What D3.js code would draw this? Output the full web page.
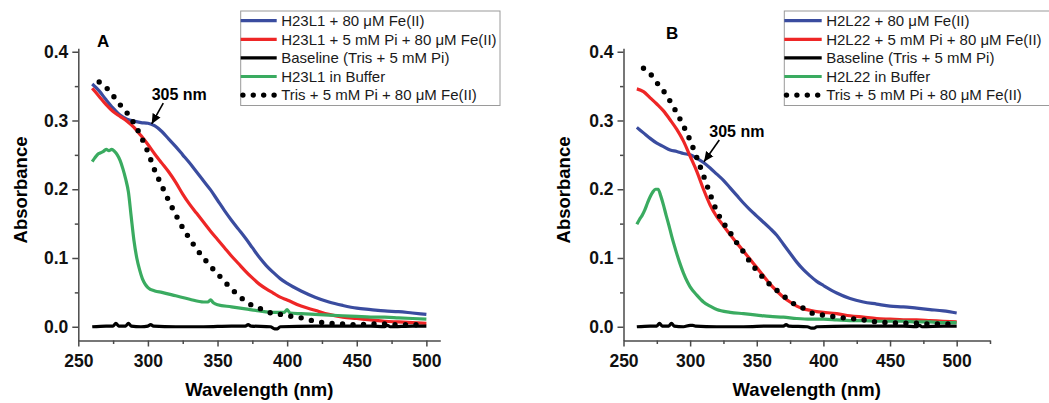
<!DOCTYPE html>
<html>
<head>
<meta charset="utf-8">
<script src="https://cdn.jsdelivr.net/npm/d3@7"></script>
<style>
body{margin:0;background:#fff;}
svg{display:block;font-family:"Liberation Sans",Arial,sans-serif;}
</style>
</head>
<body>
<svg id="chart" width="1049" height="403"></svg>
<script>
// wavelengths (nm)
const wl = [260,265,270,275,280,285,290,295,300,305,310,315,320,325,330,335,340,345,350,355,360,365,370,375,380,385,390,395,400,410,420,430,440,450,460,470,480,490,500];
const wlDots = [265,270,275,280,285,290,295,300,305,310,315,320,325,330,335,340,345,350,355,360,365,370,375,380,385,390,395,400,410,420,430,440,450,460,470,480,490,500];
const wlGreenA = [260,262,264,266,268,270,272,274,276,278,280,282,284,286,288,290,292,294,296,298,300,305,310,320,330,340,343,345,347,350,360,370,380,390,398,400,402,410,420,430,440,450,460,470,480,490,500];
const wlGreenB = [260,262,264,266,268,270,272,274,276,278,280,282,284,286,288,290,292,295,298,300,305,310,315,320,330,340,350,360,370,380,390,400,410,420,430,440,450,460,470,480,490,500];
const wlBase = [260,270,275,277,279,284,286,288,295,300,302,304,320,340,360,370,372,374,388,391,393,395,420,440,460,470,472,474,490,500];

// panel A absorbance
const blueA = [0.353,0.343,0.330,0.318,0.308,0.302,0.299,0.297,0.296,0.292,0.284,0.273,0.262,0.250,0.238,0.225,0.212,0.199,0.184,0.169,0.155,0.142,0.129,0.115,0.101,0.089,0.079,0.070,0.063,0.052,0.043,0.036,0.031,0.027,0.025,0.023,0.022,0.020,0.018];
const redA = [0.347,0.335,0.323,0.313,0.306,0.299,0.290,0.278,0.265,0.251,0.238,0.225,0.210,0.193,0.178,0.165,0.152,0.139,0.127,0.115,0.103,0.092,0.081,0.071,0.062,0.055,0.049,0.043,0.039,0.030,0.024,0.018,0.014,0.012,0.010,0.008,0.007,0.006,0.005];
const greenA = [0.240,0.246,0.251,0.253,0.255,0.258,0.256,0.258,0.255,0.250,0.242,0.230,0.215,0.196,0.160,0.125,0.100,0.083,0.070,0.062,0.057,0.052,0.050,0.045,0.040,0.036,0.036,0.039,0.035,0.032,0.029,0.026,0.023,0.021,0.021,0.025,0.020,0.019,0.018,0.017,0.016,0.015,0.014,0.014,0.013,0.012,0.011];
const baseA = [0,0.001,0.001,0.005,0.001,0.001,0.005,0.001,0.000,0.001,0.003,0.001,0.000,0.000,0.001,0.001,0.003,0.001,0.000,-0.003,-0.003,0.000,0.001,0.001,0.001,0.000,0.002,0.000,0.001,0.001];
const dotsA = [0.356,0.348,0.336,0.323,0.311,0.296,0.277,0.254,0.227,0.205,0.183,0.163,0.144,0.128,0.113,0.100,0.088,0.077,0.066,0.055,0.046,0.037,0.031,0.027,0.023,0.019,0.018,0.016,0.013,0.008,0.005,0.004,0.003,0.004,0.004,0.003,0.003,0.003];

// panel B absorbance
const blueB = [0.290,0.282,0.274,0.267,0.262,0.257,0.255,0.252,0.250,0.245,0.239,0.231,0.222,0.213,0.202,0.191,0.180,0.170,0.161,0.152,0.143,0.133,0.120,0.107,0.094,0.083,0.074,0.066,0.060,0.049,0.041,0.036,0.033,0.030,0.029,0.027,0.025,0.023,0.020];
const redB = [0.346,0.342,0.333,0.324,0.314,0.301,0.287,0.270,0.248,0.226,0.200,0.177,0.160,0.147,0.134,0.122,0.110,0.098,0.086,0.074,0.062,0.052,0.043,0.036,0.030,0.026,0.024,0.022,0.021,0.019,0.016,0.014,0.012,0.011,0.010,0.010,0.009,0.008,0.007];
const greenB = [0.149,0.156,0.162,0.170,0.180,0.189,0.196,0.200,0.200,0.190,0.177,0.162,0.148,0.133,0.119,0.106,0.094,0.078,0.065,0.058,0.046,0.036,0.030,0.025,0.021,0.019,0.017,0.015,0.014,0.012,0.011,0.011,0.010,0.009,0.009,0.008,0.008,0.008,0.007,0.007,0.006,0.006];
const baseB = [0,0.001,0.001,0.005,0.001,0.001,0.005,0.001,0.000,0.002,0.002,0.001,0.000,0.000,0.001,0.001,0.003,0.001,0.000,-0.002,-0.002,0.000,0.001,0.001,0.001,0.000,0.002,0.000,0.001,0.001];
const dotsB = [0.376,0.368,0.355,0.343,0.328,0.311,0.292,0.271,0.246,0.220,0.193,0.168,0.151,0.137,0.122,0.109,0.094,0.082,0.071,0.061,0.053,0.045,0.037,0.031,0.027,0.021,0.018,0.017,0.014,0.012,0.010,0.007,0.006,0.005,0.005,0.004,0.004,0.004];

const legendA = ["H23L1 + 80 μM Fe(II)","H23L1 + 5 mM Pi + 80 μM Fe(II)","Baseline (Tris + 5 mM Pi)","H23L1 in Buffer","Tris + 5 mM Pi + 80 μM Fe(II)"];
const legendB = ["H2L22 + 80 μM Fe(II)","H2L22 + 5 mM Pi + 80 μM Fe(II)","Baseline (Tris + 5 mM Pi)","H2L22 in Buffer","Tris + 5 mM Pi + 80 μM Fe(II)"];

const xTicks = [250,300,350,400,450,500];
const yTicks = [0,0.1,0.2,0.3,0.4];
const yMinor = [0.05,0.15,0.25,0.35];

const colors = {blue:"#3a4c9f", red:"#ee2626", black:"#000000", green:"#3aab60"};
const FONT = '"Liberation Sans", Arial, sans-serif';

const svg = d3.select("#chart");

const panels = [
  {name:"A", xDomain:[250,510], xRange:[78.3,440.3],
   series:[[wl,blueA,"blue"],[wl,redA,"red"],[wlBase,baseA,"black"],[wlGreenA,greenA,"green"],[wlDots,dotsA,"dots"]],
   legend:legendA, legendX:240.7, legendW:259.3, lineLen:36,
   tag:[97,47], arrowAt:[302.7,0.295], tail:[11.6,-20.7], textOff:[0,-24], yLabelX:26.5},
  {name:"B", xDomain:[250,525], xRange:[623.5,990],
   series:[[wl,blueB,"blue"],[wl,redB,"red"],[wlBase,baseB,"black"],[wlGreenB,greenB,"green"],[wlDots,dotsB,"dots"]],
   legend:legendB, legendX:784.3, legendW:290, lineLen:37.4,
   tag:[666,38.5], arrowAt:[310.4,0.240], tail:[15.3,-21.7], textOff:[5.3,-24.7], yLabelX:569.5}
];

svg.append("defs").append("marker")
  .attr("id","arr").attr("viewBox","0 0 10 10").attr("refX",10).attr("refY",5)
  .attr("markerWidth",10).attr("markerHeight",10).attr("markerUnits","userSpaceOnUse")
  .attr("orient","auto")
  .append("path").attr("d","M0,0.5 L10,5 L0,9.5 Z").attr("fill","#000");

panels.forEach(function(p){
  const x = d3.scaleLinear().domain(p.xDomain).range(p.xRange);
  const y = d3.scaleLinear().domain([-0.02,0.405]).range([340.5,48.3]);
  const g = svg.append("g");

  // x axis
  const xMinor = d3.range(275, p.xDomain[1]+1, 50);
  g.append("g").attr("transform","translate(0,340.5)")
    .call(d3.axisBottom(x).tickValues(xTicks).tickSize(6).tickPadding(8).tickSizeOuter(0).tickFormat(d3.format("d")));
  g.append("g").attr("transform","translate(0,340.5)")
    .call(d3.axisBottom(x).tickValues(xMinor).tickSize(3.5).tickFormat(""))
    .select(".domain").remove();

  // y axis
  g.append("g").attr("transform","translate("+p.xRange[0]+",0)")
    .call(d3.axisLeft(y).tickValues(yTicks).tickSize(6).tickPadding(4).tickSizeOuter(0).tickFormat(d3.format(".1f")));
  g.append("g").attr("transform","translate("+p.xRange[0]+",0)")
    .call(d3.axisLeft(y).tickValues(yMinor).tickSize(3.5).tickFormat(""))
    .select(".domain").remove();

  g.selectAll(".domain, .tick line").attr("stroke","#4a4a4a").attr("stroke-width",1.5);
  g.selectAll(".tick text").attr("font-family",FONT).attr("font-size",17.5).attr("font-weight","bold").attr("fill","#111");

  // series
  const line = d3.line().x(d => x(d[0])).y(d => y(d[1])).curve(d3.curveMonotoneX);
  p.series.forEach(function(s){
    const pts = s[0].map((v,i) => [v, s[1][i]]);
    const path = g.append("path").datum(pts).attr("d", line).attr("fill","none");
    if (s[2] === "dots") {
      path.attr("stroke","#000").attr("stroke-width",5.4).attr("stroke-linecap","round").attr("stroke-dasharray","0 10.5");
    } else {
      path.attr("stroke",colors[s[2]]).attr("stroke-width",3.2).attr("stroke-linejoin","round");
    }
  });

  // axis titles
  g.append("text").attr("x",(p.xRange[0]+p.xRange[1])/2).attr("y",396)
    .attr("text-anchor","middle").attr("font-family",FONT).attr("font-size",18.5).attr("font-weight","bold")
    .text("Wavelength (nm)");
  g.append("text").attr("transform","translate("+p.yLabelX+",190) rotate(-90)")
    .attr("text-anchor","middle").attr("font-family",FONT).attr("font-size",18.5).attr("font-weight","bold")
    .text("Absorbance");

  // panel tag
  g.append("text").attr("x",p.tag[0]).attr("y",p.tag[1])
    .attr("font-family",FONT).attr("font-size",17).attr("font-weight","bold").text(p.name);

  // 305 nm annotation
  const tx = x(p.arrowAt[0]), ty = y(p.arrowAt[1]);
  g.append("line").attr("x1",tx+p.tail[0]).attr("y1",ty+p.tail[1]).attr("x2",tx).attr("y2",ty)
    .attr("stroke","#000").attr("stroke-width",1.6).attr("marker-end","url(#arr)");
  g.append("text").attr("x",tx+p.textOff[0]).attr("y",ty+p.textOff[1])
    .attr("font-family",FONT).attr("font-size",16).attr("font-weight","bold").text("305 nm");

  // legend
  const lg = g.append("g");
  lg.append("rect").attr("x",p.legendX).attr("y",11).attr("width",p.legendW).attr("height",94.5)
    .attr("fill","#fff").attr("stroke","#9a9a9a").attr("stroke-width",1);
  const keys = ["blue","red","black","green","dots"];
  p.legend.forEach(function(label,i){
    const ry = 20.7 + i*18.6;
    const k = keys[i];
    const l = lg.append("line").attr("y1",ry).attr("y2",ry);
    if (k === "dots") {
      l.attr("x1",p.legendX+2.2).attr("x2",p.legendX+p.lineLen-1.5)
       .attr("stroke","#000").attr("stroke-width",5.4).attr("stroke-linecap","round").attr("stroke-dasharray","0 10.4");
    } else {
      l.attr("x1",p.legendX).attr("x2",p.legendX+p.lineLen).attr("stroke",colors[k]).attr("stroke-width",3.2);
    }
    lg.append("text").attr("x",p.legendX+p.lineLen+4.5).attr("y",ry+5.2)
      .attr("font-family",FONT).attr("font-size",15).attr("fill","#1a1a1a").text(label);
  });
});
</script>
</body>
</html>
